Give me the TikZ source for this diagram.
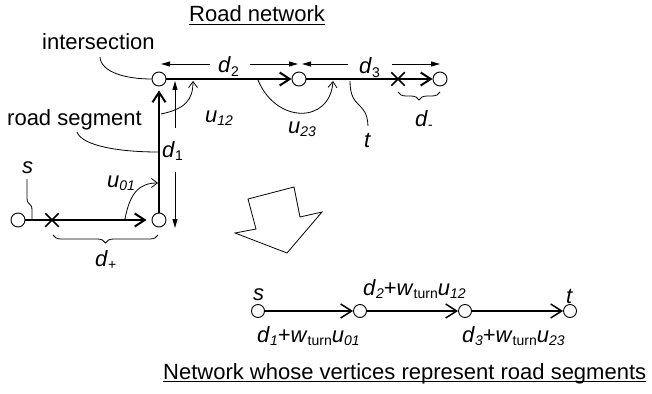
\documentclass[tikz,border=0pt]{standalone}
\usepackage{fontspec}
\setmainfont{Liberation Sans}
\usetikzlibrary{arrows.meta,decorations.pathreplacing,shapes.misc}
\newcommand\sbs[1]{\raisebox{-3.5pt}{\fontsize{14}{14}\selectfont #1}}
\begin{document}
\begin{tikzpicture}[x=1pt,y=-1pt,
  every node/.style={inner sep=0pt},
  lbl/.style={font=\fontsize{22}{26}\selectfont, anchor=base west},
  junc/.style={circle,draw,line width=0.9pt,minimum size=14pt},
  vtx/.style={circle,draw,line width=0.9pt,minimum size=13pt},
  road/.style={line width=2pt,-{Straight Barb[length=10pt,width=13pt]}},
  xmark/.style={draw,cross out,line width=1.5pt,minimum size=12pt},
  dimarrow/.style={line width=0.9pt,-{Triangle[length=9pt,width=5pt]}},
  leader/.style={line width=0.8pt},
  turnarrow/.style={line width=0.8pt,-{Straight Barb[length=6pt,width=9pt]}},
  bracedec/.style={decorate,decoration={brace,amplitude=8pt},line width=0.8pt},
  edgearrow/.style={line width=1.5pt,-{Straight Barb[length=11pt,width=14pt]}},
  bigarrow/.style={draw,line width=0.8pt,line join=miter},
  uline/.style={line width=1.3pt}
]
\useasboundingbox (0,0) rectangle (652,393);

% ---------- road network ----------
\node[junc] (s0) at (18,220) {};
\node[junc] (n1) at (159,220) {};
\node[junc] (n2) at (159,79) {};
\node[junc] (n3) at (299,79) {};
\node[junc] (n4) at (440,79) {};
\node[xmark] (x1) at (52,220) {};
\node[xmark] (x2) at (398,79) {};

\draw[road, shorten >=5pt] (s0) -- (n1);
\draw[road, shorten >=4pt] (n1) -- (n2);
\draw[road] (n2) -- (n3);
\draw[road] (n3) -- (n4);

% dimension arrows
\coordinate (d2L) at (161,64); \coordinate (d2a) at (210,64);
\coordinate (d2b) at (250,64); \coordinate (d2R) at (298,64);
\coordinate (d3L) at (302,64); \coordinate (d3a) at (348,64);
\coordinate (d3b) at (392,64); \coordinate (d3R) at (440,64);
\coordinate (d1T) at (175,81); \coordinate (d1a) at (175,128);
\coordinate (d1b) at (175,172); \coordinate (d1B) at (175,228);
\draw[dimarrow] (d2a) -- (d2L);
\draw[dimarrow] (d2b) -- (d2R);
\draw[dimarrow] (d3a) -- (d3L);
\draw[dimarrow] (d3b) -- (d3R);
\draw[dimarrow] (d1a) -- (d1T);
\draw[dimarrow] (d1b) -- (d1B);

\node[lbl] (ld2) at (218,73) {\textit{d}\sbs{2}};
\node[lbl] (ld3) at (359,74) {\textit{d}\sbs{3}};
\node[lbl] (ld1) at (162,157) {\textit{d}\sbs{1}};

% braces
\coordinate (bpA) at (158,235); \coordinate (bpB) at (53,235);
\draw[bracedec] (bpA) -- (bpB);
\node[lbl] (ldp) at (95,266) {\textit{d}\sbs{+}};
\coordinate (bmA) at (440,92); \coordinate (bmB) at (398,92);
\draw[bracedec] (bmA) -- (bmB);
\node[lbl] (ldm) at (415,126) {\textit{d}\sbs{-}};

% turn arrows
\coordinate (u01a) at (125,219); \coordinate (u01b) at (158,183);
\draw[turnarrow] (u01a) .. controls (130,192) and (140,183) .. (u01b);
\coordinate (u12a) at (161,114); \coordinate (u12b) at (193,81);
\draw[turnarrow] (u12a) .. controls (185,109) and (193,100) .. (u12b);
\coordinate (u23a) at (258,80); \coordinate (u23b) at (333,81);
\draw[turnarrow] (u23a) .. controls (276,124) and (330,124) .. (u23b);
\node[lbl] (lu01) at (107,187) {\textit{u}\sbs{\textit{01}}};
\node[lbl] (lu12) at (205,122) {\textit{u}\sbs{\textit{12}}};
\node[lbl] (lu23) at (288,133) {\textit{u}\sbs{\textit{23}}};

% labels with leaders
\node[lbl] (lint) at (42,50) {intersection};
\coordinate (intA) at (100,57);
\draw[leader] (intA) .. controls (101,72) and (125,79) .. (n2.west);
\node[lbl] (lrs) at (7,125) {road segment};
\coordinate (rsA) at (77,132); \coordinate (rsB) at (158,152);
\draw[leader] (rsA) .. controls (82,146) and (120,152) .. (rsB);
\node[lbl] (ls) at (22,173) {\textit{s}};
\coordinate (sA) at (27,179); \coordinate (sB) at (32,219);
\draw[leader] (sA) -- (27,198) .. controls (27,206) and (32,202) .. (32,210) -- (sB);
\node[lbl] (lt) at (364,147) {\textit{t}};
\coordinate (tA) at (350,81); \coordinate (tB) at (368,126);
\draw[leader] (tA) .. controls (350,110) and (367,100) .. (tB);

\node[lbl] (rn) at (189,22) {Road network};
\draw[uline] ([yshift=-2.5pt]rn.base west) -- ([yshift=-2.5pt]rn.base east);

% big arrow
\draw[bigarrow] (248,199) -- (294,187) -- (300,217) -- (322,212) -- (287,253) -- (235,233) -- (256,229) -- cycle;

% ---------- segment network ----------
\node[vtx] (v0) at (258,311) {};
\node[vtx] (v1) at (360,311) {};
\node[vtx] (v2) at (465,311) {};
\node[vtx] (v3) at (570,311) {};
\draw[edgearrow] (v0) -- (v1);
\draw[edgearrow] (v1) -- (v2);
\draw[edgearrow] (v2) -- (v3);
\node[lbl] (bs) at (253,300) {\textit{s}};
\node[lbl] (bt) at (566,303) {\textit{t}};
\node[lbl] (bl2) at (363,295) {\textit{d}\sbs{\textit{2}}+\textit{w}\sbs{turn}\textit{u}\sbs{\textit{12}}};
\node[lbl] (bl1) at (257,342) {\textit{d}\sbs{\textit{1}}+\textit{w}\sbs{turn}\textit{u}\sbs{\textit{01}}};
\node[lbl] (bl3) at (462,342) {\textit{d}\sbs{\textit{3}}+\textit{w}\sbs{turn}\textit{u}\sbs{\textit{23}}};

\node[lbl] (nw) at (163,379) {Network whose vertices represent road segments};
\draw[uline] ([yshift=-2.5pt]nw.base west) -- ([yshift=-2.5pt]nw.base east);
\end{tikzpicture}
\end{document}
